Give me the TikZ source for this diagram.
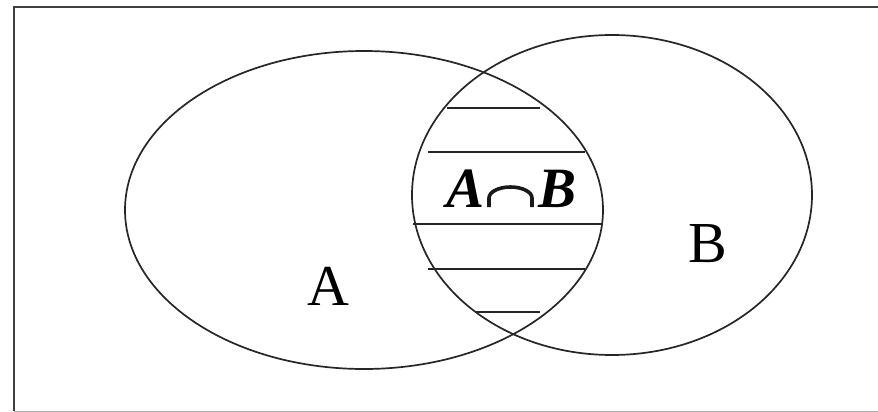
\documentclass[tikz,border=0pt]{standalone}
\usepackage{fontspec}
\usetikzlibrary{shapes.geometric}
\setmainfont{Liberation Serif}
\begin{document}
\begin{tikzpicture}[x=1pt,y=-1pt,
  setline/.style={draw=black!85,line width=1.7pt,shape=ellipse,inner sep=0pt},
  hatch/.style={draw=black!85,line width=1.7pt},
  lbl/.style={inner sep=0pt,font=\fontsize{58}{60}\selectfont},
  blbl/.style={inner sep=0pt,anchor=base,font=\fontsize{57}{59}\selectfont\bfseries\itshape}]
\useasboundingbox (0,0) rectangle (878,412);
\fill[white] (0,0) rectangle (878,412);
% frame
\coordinate (tl) at (14,7);
\coordinate (tr) at (878,7);
\coordinate (bl) at (14,411);
\coordinate (br) at (878,411);
\draw[draw=black!75,line width=2pt] (tr) -- (tl) -- (bl);
\draw[draw=black!30,line width=1pt] (bl) -- (br);
% sets
\node[setline,minimum width=478pt,minimum height=318pt] (A) at (364,210) {};
\node[setline,minimum width=400pt,minimum height=320pt] (B) at (612,195) {};
% hatch lines
\coordinate (h1a) at (447,108); \coordinate (h1b) at (540,108);
\coordinate (h2a) at (428,152); \coordinate (h2b) at (585,152);
\coordinate (h3a) at (413,224); \coordinate (h3b) at (603,224);
\coordinate (h4a) at (428,269); \coordinate (h4b) at (585,269);
\coordinate (h5a) at (475,312); \coordinate (h5b) at (540,312);
\draw[hatch] (h1a) -- (h1b);
\draw[hatch] (h2a) -- (h2b);
\draw[hatch] (h3a) -- (h3b);
\draw[hatch] (h4a) -- (h4b);
\draw[hatch] (h5a) -- (h5b);
% A cap B label
\node[blbl] (lA) at (466,207) {A};
\node[blbl] (lB) at (558,207) {B};
\coordinate (capl) at (489,207);
\coordinate (capr) at (532,207);
\draw[line width=3.6pt,black!90] (capl) -- ++(0,-9) arc[start angle=180,end angle=0,x radius=21.5,y radius=-11] -- (capr);
% set labels
\node[lbl] (la) at (328,286) {A};
\node[lbl] (lb) at (708,244) {B};
\end{tikzpicture}
\end{document}
